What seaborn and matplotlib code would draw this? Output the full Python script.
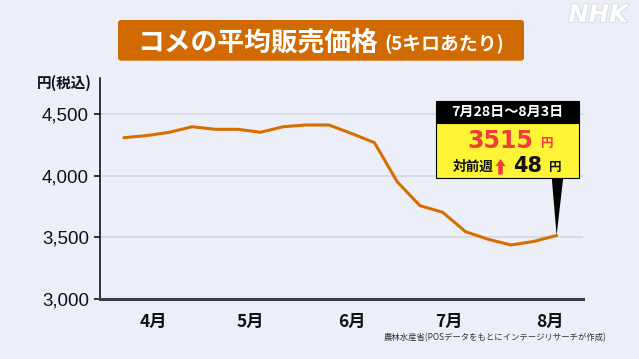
import pandas as pd
import numpy as np
import matplotlib
matplotlib.use("Agg")
import matplotlib.pyplot as plt
import matplotlib.dates as mdates
import matplotlib.patheffects as pe
from matplotlib.patches import FancyBboxPatch, Rectangle, Polygon
import seaborn as sns

# weekly average retail price of rice (5kg, tax included), week end dates
week_end = ['2025-03-23', '2025-03-30', '2025-04-06', '2025-04-13', '2025-04-20',
            '2025-04-27', '2025-05-04', '2025-05-11', '2025-05-18', '2025-05-25',
            '2025-06-01', '2025-06-08', '2025-06-15', '2025-06-22', '2025-06-29',
            '2025-07-06', '2025-07-13', '2025-07-20', '2025-07-27', '2025-08-03']
price = [4308, 4325, 4352, 4397, 4376, 4376, 4352, 4397, 4411, 4411,
         4342, 4268, 3951, 3757, 3703, 3546, 3484, 3438, 3467, 3515]

month_ticks = ['2025-04-01', '2025-05-01', '2025-06-01', '2025-07-01', '2025-08-01']
month_labels = ['4月', '5月', '6月', '7月', '8月']
y_ticks = [3000, 3500, 4000, 4500]
y_labels = ['3,000', '3,500', '4,000', '4,500']

latest_week = '7月28日～8月3日'
latest_price = '3515'
week_change = '48'

df = pd.DataFrame({'date': pd.to_datetime(week_end), 'price': price})

BG = '#ECEFF8'
ORANGE = '#D86E00'
RED = '#F03C3C'
CJK = ['Noto Sans CJK JP', 'DejaVu Sans']

sns.set_theme(style='white')
plt.rcParams['font.family'] = CJK
plt.rcParams['axes.facecolor'] = BG
plt.rcParams['figure.facecolor'] = BG

fig = plt.figure(figsize=(6.39, 3.59), dpi=100)
ax = fig.add_axes([99.5 / 639, 1 - 299 / 359, (583.3 - 99.5) / 639, (299 - 78) / 359])

sns.lineplot(data=df, x='date', y='price', color=ORANGE, linewidth=2.2, ax=ax)

ax.set_ylim(3000, 4792)
ax.set_xlim(pd.Timestamp('2025-03-15 12:00'), pd.Timestamp('2025-08-11 05:00'))
ax.set_yticks(y_ticks)
ax.set_yticklabels(y_labels, family='Liberation Sans', fontsize=13.5, color='#111111')
ax.set_xticks(pd.to_datetime(month_ticks))
ax.set_xticklabels(month_labels, fontsize=12.5, fontweight='bold', color='#111111')
ax.set_xlabel('')
ax.set_ylabel('')

ax.tick_params(axis='y', length=4.5, width=1.1, color='black', pad=3, left=True)
ax.tick_params(axis='x', length=0, pad=10)
for yv in y_ticks[1:]:
    ax.axhline(yv, color='#D3D6DF', linewidth=1.2, zorder=0)
sns.despine(ax=ax)
ax.spines['left'].set_color('black')
ax.spines['left'].set_linewidth(1.1)
ax.spines['bottom'].set_color('#3C3C44')
ax.spines['bottom'].set_linewidth(2.2)

# helpers in pixel coordinates (top-left origin)
T = fig.dpi_scale_trans
def px(x, y):
    return x / 100, (359 - y) / 100

# title banner
fig.patches.append(FancyBboxPatch(px(118, 60.7), 4.06, 0.407,
                                  boxstyle='round,pad=0,rounding_size=0.03',
                                  transform=T, facecolor='#D26A02', edgecolor='none'))
fig.text(*px(137, 42.5), 'コメの平均販売価格', transform=T, fontsize=19.3,
         fontweight='bold', color='white', va='center', ha='left')
fig.text(*px(384, 44.5), '(5キロあたり)', transform=T, fontsize=13.6,
         fontweight='bold', color='white', va='center', ha='left')

# NHK mark
fig.text(*px(598, 15), 'NHK', transform=T, fontsize=17.5, fontweight='bold',
         style='italic', family='DejaVu Sans', color='white', ha='center', va='center',
         path_effects=[pe.withStroke(linewidth=1.5, foreground='#D9DCE4')])

# unit label
fig.text(*px(64.5, 82.5), '円(税込)', transform=T, fontsize=10.5,
         fontweight='bold', color='#111111', ha='center', va='center')

# source
fig.text(*px(495, 338), '農林水産省(POSデータをもとにインテージリサーチが作成)', transform=T,
         fontsize=6, color='#333333', ha='center', va='center')

# callout pointer to latest point
tip = ax.transData.transform((mdates.date2num(df['date'].iloc[-1]), df['price'].iloc[-1]))
tip_in = T.inverted().transform(tip)
fig.patches.append(Polygon([px(551.7, 177), px(563.3, 177), tuple(tip_in)],
                           closed=True, transform=T, facecolor='black', edgecolor='none'))

# callout box
fig.patches.append(Rectangle(px(436, 123.3), 1.433, 0.223, transform=T,
                             facecolor='black', edgecolor='black', linewidth=0.8))
fig.patches.append(Rectangle(px(436, 177.7), 1.433, 0.544, transform=T,
                             facecolor='#FCF434', edgecolor='black', linewidth=0.8))
fig.text(*px(507.5, 112), latest_week, transform=T, fontsize=10.2,
         fontweight='bold', color='white', ha='center', va='center')
fig.text(*px(467, 141), latest_price, transform=T, fontsize=17, family='DejaVu Sans',
         fontweight='bold', color=RED, ha='left', va='center')
fig.text(*px(547, 143), '円', transform=T, fontsize=9, fontweight='bold',
         color=RED, ha='center', va='center')
fig.text(*px(473, 167), '対前週', transform=T, fontsize=9.8, fontweight='bold',
         color='#111111', ha='center', va='center')
fig.patches.append(Polygon([px(500.5, 159), px(505.5, 166), px(502.8, 166), px(502.8, 174.5),
                            px(498.2, 174.5), px(498.2, 166), px(495.5, 166)],
                           closed=True, transform=T, facecolor=RED, edgecolor='none'))
fig.text(*px(513, 166.5), week_change, transform=T, fontsize=15, family='DejaVu Sans',
         fontweight='bold', color='#111111', ha='left', va='center')
fig.text(*px(555, 168), '円', transform=T, fontsize=9, fontweight='bold',
         color='#111111', ha='center', va='center')

fig.savefig('out.png', dpi=100, facecolor=BG)
